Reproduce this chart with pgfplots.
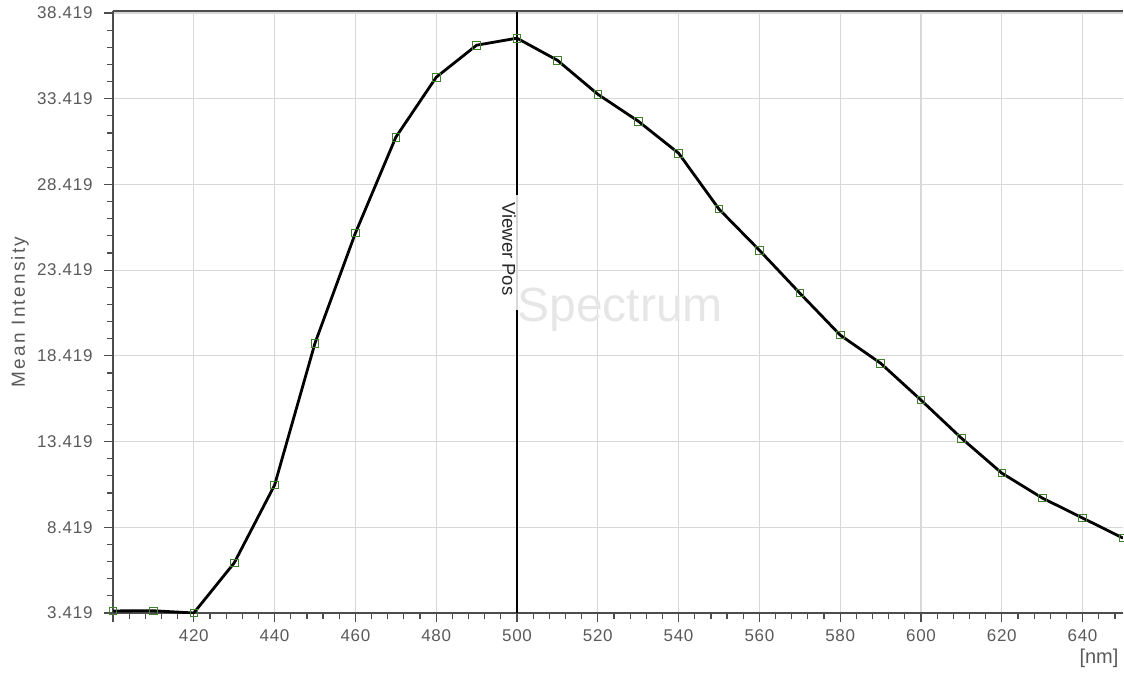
\documentclass[border=0pt]{standalone}
\usepackage{fontspec}
\setmainfont{Liberation Sans}
\usepackage{pgfplots}
\pgfplotsset{compat=1.18}
\definecolor{axisgray}{HTML}{4D4D4D}
\definecolor{gridgray}{HTML}{D8D8D8}
\definecolor{textgray}{HTML}{5A5A5A}
\definecolor{markgreen}{HTML}{3F7F2F}
\definecolor{wmgray}{HTML}{E6E6E6}
\newfontfamily\tickfont[LetterSpace=4]{Liberation Sans}
\newfontfamily\labfont[LetterSpace=12]{Liberation Sans}
\begin{document}
\begin{tikzpicture}
\useasboundingbox (-113pt,-60pt) rectangle (1011pt,613pt);
\begin{axis}[
  at={(0,0)}, anchor=south west,
  scale only axis, width=1010pt, height=602pt,
  xmin=400, xmax=650, ymin=3.419, ymax=38.535,
  axis x line*=bottom, axis y line*=left,
  axis line style={-, draw=axisgray, line width=1.6pt},
  xtick={400,420,...,640},
  xticklabels={,420,440,460,480,500,520,540,560,580,600,620,640},
  ytick={3.419,8.419,13.419,18.419,23.419,28.419,33.419,38.419},
  yticklabels={3.419,8.419,13.419,18.419,23.419,28.419,33.419,38.419},
  minor xtick={404,408,...,649},
  minor ytick={4.419,5.419,...,37.5},
  tick align=outside,
  major tick length=9pt, minor tick length=6pt,
  tick style={draw=axisgray, line width=1.2pt},
  xmajorgrids, ymajorgrids,
  major grid style={draw=gridgray, line width=1.2pt},
  xticklabel style={font=\tickfont\fontsize{17}{20}\selectfont, text=textgray, yshift=-4pt},
  yticklabel style={font=\tickfont\fontsize{17}{20}\selectfont, text=textgray, xshift=-8pt},
  ylabel={Mean Intensity},
  ylabel style={at={(rel axis cs:0,0.5)}, anchor=center, yshift=93pt,
    font=\labfont\fontsize{19}{22}\selectfont, text=textgray},
  xlabel={[nm]},
  xlabel style={at={(rel axis cs:1,0)}, anchor=east, yshift=-45pt, xshift=-1pt,
    font=\fontsize{20}{22}\selectfont, text=textgray},
]
\node[text=wmgray, font=\fontsize{48}{50}\selectfont] at (axis cs:525.5,21.1) {Spectrum};
\addplot[black, line width=1.3pt] coordinates {(500,27.81) (500,38.535)};
\addplot[black, line width=1.3pt] coordinates {(500,3.419) (500,21.10)};
\node[rotate=-90, font=\fontsize{18.5}{20}\selectfont, text=black!85] at (axis cs:498,24.66) {Viewer Pos};
\addplot[black, line width=2.8pt, mark=square, mark size=3.8pt,
  mark options={draw=markgreen, line width=0.8pt, fill=none}] coordinates {
(400,3.54) (410,3.55) (420,3.42) (430,6.34) (440,10.88) (450,19.16)
(460,25.58) (470,31.17) (480,34.67) (490,36.54) (500,36.95) (510,35.66)
(520,33.68) (530,32.11) (540,30.24) (550,26.98) (560,24.58) (570,22.08)
(580,19.63) (590,17.99) (600,15.84) (610,13.62) (620,11.58) (630,10.13)
(640,8.96) (650,7.79)
};
\draw[axisgray, line width=1.6pt] (rel axis cs:0,1) -- (rel axis cs:1,1);
\end{axis}
\end{tikzpicture}
\end{document}
